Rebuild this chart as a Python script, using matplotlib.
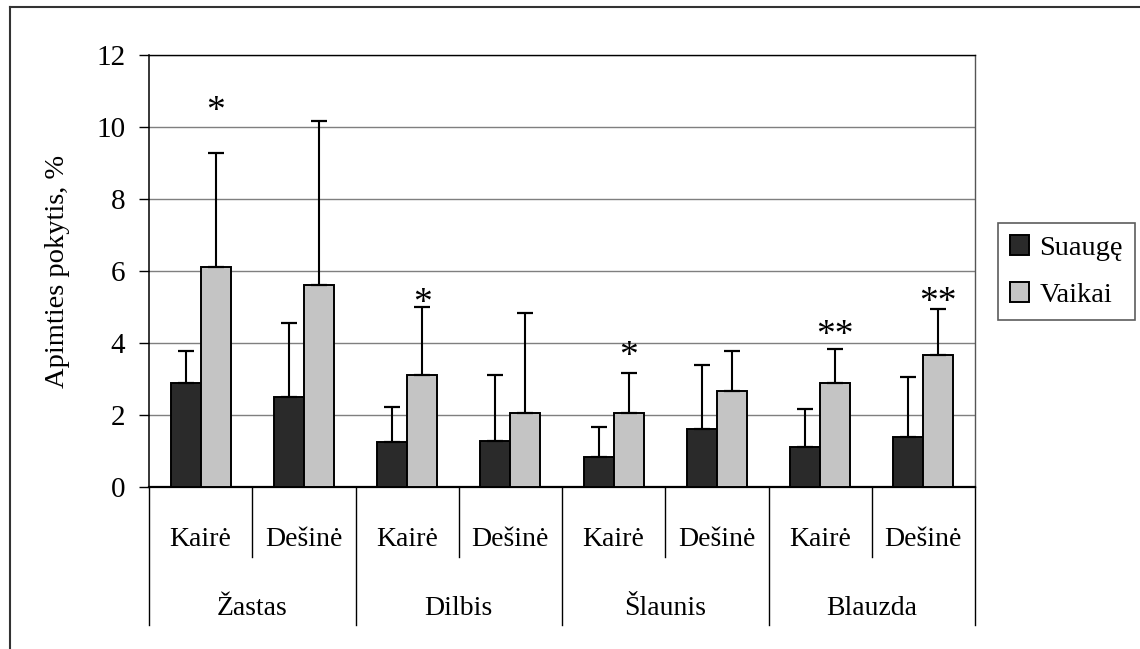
import matplotlib
matplotlib.use('Agg')
import matplotlib.pyplot as plt
from matplotlib.lines import Line2D
import numpy as np

plt.rcParams['font.family'] = ['Liberation Serif', 'DejaVu Serif']
plt.rcParams['font.size'] = 20

# range-of-motion change, mean and SD per limb segment / side
segments = ['Žastas', 'Dilbis', 'Šlaunis', 'Blauzda']
sides = ['Kairė', 'Dešinė']
adults = [2.90, 2.51, 1.24, 1.28, 0.84, 1.62, 1.12, 1.40]
adults_sd = [0.88, 2.04, 0.98, 1.82, 0.84, 1.77, 1.05, 1.66]
children = [6.11, 5.62, 3.12, 2.06, 2.06, 2.68, 2.89, 3.67]
children_sd = [3.18, 4.55, 1.88, 2.77, 1.11, 1.11, 0.94, 1.27]
series_names = ['Suaugę', 'Vaikai']

# significance marks above the children's bars
sig_marks = ['*', '', '*', '', '*', '', '**', '**']
sig_y = [10.67, 0, 5.33, 0, 3.86, 0, 4.45, 5.36]

yticks = [0, 2, 4, 6, 8, 10, 12]
ylabel = 'Apimties pokytis, %'

DARK = '#2a2a2a'
LIGHT = '#c4c4c4'
W, H = 1140, 649

fig = plt.figure(figsize=(W / 100, H / 100), dpi=100)
ax = fig.add_axes([149 / W, 1 - 487 / H, 826 / W, 432 / H])

n = len(adults)
x = np.arange(n)
bw = 0.29
err_kw = dict(ecolor='black', elinewidth=1.5, capsize=5.5, capthick=1.6)
ax.bar(x - bw / 2, adults, bw, color=DARK, edgecolor='black', linewidth=1.4,
       yerr=[np.zeros(n), adults_sd], error_kw=err_kw, zorder=3,
       label=series_names[0])
ax.bar(x + bw / 2, children, bw, color=LIGHT, edgecolor='black', linewidth=1.4,
       yerr=[np.zeros(n), children_sd], error_kw=err_kw, zorder=3,
       label=series_names[1])

for i, (mark, y) in enumerate(zip(sig_marks, sig_y)):
    if mark:
        ax.annotate(mark, (x[i] + bw / 2, y), xytext=(0, -9),
                    textcoords='offset pixels', ha='center', va='center',
                    fontsize=27)

ax.set_xlim(-0.5, n - 0.5)
ax.set_ylim(0, 12)
ax.set_yticks(yticks)
ax.set_yticklabels([str(t) for t in yticks], fontsize=21)
ax.set_xticks([])
ax.tick_params(axis='y', direction='out', length=7, width=1, pad=10)
ax.yaxis.grid(True, color='#7f7f7f', linewidth=1.0, zorder=0)
ax.set_axisbelow(True)
for side in ('left', 'top', 'bottom'):
    ax.spines[side].set_color('black')
ax.spines['bottom'].set_linewidth(1.6)
ax.spines['left'].set_linewidth(1.1)
ax.spines['top'].set_linewidth(1.0)
ax.spines['right'].set_color('#555555')
ax.spines['right'].set_linewidth(1.0)

# two-level category table under the axis
trans = ax.get_xaxis_transform()
for b in range(n + 1):
    bottom = -0.319 if b % 2 == 0 else -0.162
    ax.plot([b - 0.5, b - 0.5], [0, bottom], color='black', linewidth=1.0,
            transform=trans, clip_on=False)
for i in range(n):
    ax.text(x[i], -0.1366, sides[i % 2], ha='center', va='baseline',
            transform=trans)
for g, name in enumerate(segments):
    ax.text(2 * g + 0.5, -0.2963, name, ha='center', va='baseline',
            transform=trans)

fig.text(57.5 / W, 1 - 271 / H, ylabel, rotation=90, ha='center', va='center',
         fontsize=20.5)

leg = fig.legend(loc='upper left', bbox_to_anchor=(998 / W, 1 - 223 / H),
                 borderaxespad=0, fontsize=20.5, fancybox=False, shadow=False,
                 handlelength=0.68, handleheight=0.68, handletextpad=0.35,
                 borderpad=0.42, labelspacing=0.75)
leg.get_frame().set_edgecolor('#333333')
leg.get_frame().set_linewidth(1.2)

# outer chart frame (top and left edges)
fig.add_artist(Line2D([10 / W, 1], [1 - 7 / H, 1 - 7 / H], color='#333333',
                      linewidth=1.5, transform=fig.transFigure))
fig.add_artist(Line2D([10 / W, 10 / W], [0, 1 - 7 / H], color='#333333',
                      linewidth=1.5, transform=fig.transFigure))

fig.savefig('out.png', dpi=100)
